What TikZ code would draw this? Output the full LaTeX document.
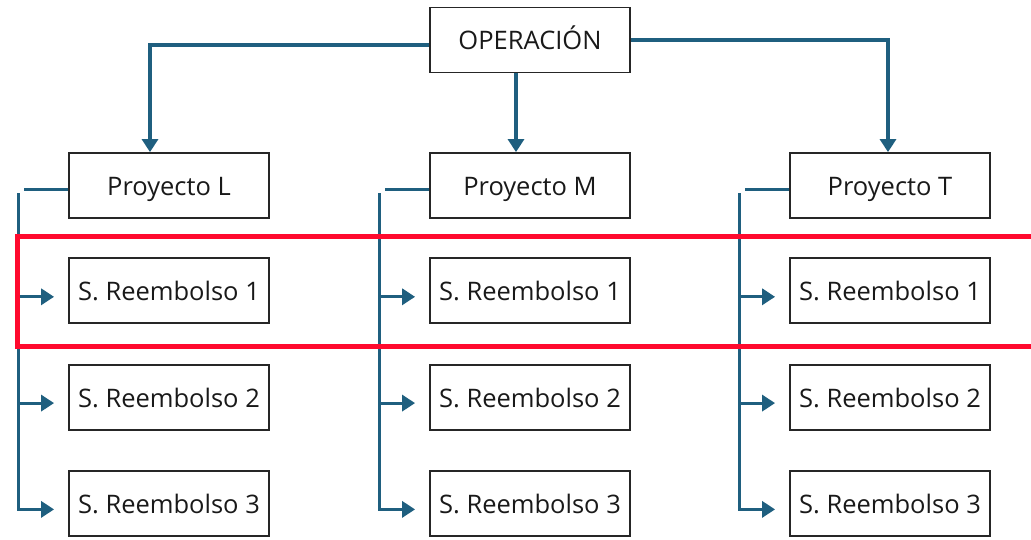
\documentclass[tikz,border=0pt]{standalone}
\usepackage{fontspec}
\setmainfont{Open Sans}
\usetikzlibrary{arrows.meta,positioning}
\definecolor{linkblue}{HTML}{1F5F7F}
\definecolor{markred}{HTML}{FF0A2E}
\begin{document}
\begin{tikzpicture}[
    x=1pt, y=-1pt,
    node distance=39.5pt,
    box/.style={rectangle, draw=black!85, line width=1.8pt, minimum width=200pt, minimum height=65pt, inner sep=0pt, text height=20pt, text depth=0pt, font=\fontsize{25.5}{28}\selectfont, text=black!90},
    conn/.style={draw=linkblue, line width=3.2pt},
    arrow/.style={conn, -{Triangle[length=13pt,width=16pt]}}
]
    \useasboundingbox (0,0) rectangle (1031,540);

    % Top level
    \node [box] (op) at (530,40) {OPERACIÓN};

    % Projects
    \node [box] (pL) at (169,185.5) {Proyecto L};
    \node [box] (pM) at (530,185.5) {Proyecto M};
    \node [box] (pT) at (890,185.5) {Proyecto T};

    % Reimbursement requests
    \node [box, below=38.5pt of pL] (sL1) {S. Reembolso 1};
    \node [box, below=of sL1] (sL2) {S. Reembolso 2};
    \node [box, below=of sL2] (sL3) {S. Reembolso 3};
    \node [box, below=38.5pt of pM] (sM1) {S. Reembolso 1};
    \node [box, below=of sM1] (sM2) {S. Reembolso 2};
    \node [box, below=of sM2] (sM3) {S. Reembolso 3};
    \node [box, below=38.5pt of pT] (sT1) {S. Reembolso 1};
    \node [box, below=of sT1] (sT2) {S. Reembolso 2};
    \node [box, below=of sT2] (sT3) {S. Reembolso 3};

    % Arrows from the top
    \draw [arrow] ([yshift=-5pt]op.west) -| ([xshift=-19pt]pL.north);
    \draw [arrow] ([xshift=-14pt]op.south) -- ([xshift=-14pt]pM.north);
    \draw [arrow] (op.east) -| ([xshift=-2pt]pT.north);

    % Buses down each column
    \foreach \p in {L,M,T}{
        \coordinate (bus\p) at ([xshift=-50pt,yshift=-8pt]p\p.west);
        \draw [conn] ([yshift=-4pt]p\p.west) -- ([xshift=-44pt,yshift=-4pt]p\p.west);
        \draw [arrow, shorten >=14pt] (bus\p) |- ([yshift=-6pt]s\p3.west);
        \draw [arrow, shorten >=14pt] ([yshift=-6pt]bus\p |- s\p1.west) -- ([yshift=-6pt]s\p1.west);
        \draw [arrow, shorten >=14pt] ([yshift=-6pt]bus\p |- s\p2.west) -- ([yshift=-6pt]s\p2.west);
    }

    % Highlight
    \draw [markred, line width=5pt] (17,237) rectangle (1040,346);
\end{tikzpicture}
\end{document}
